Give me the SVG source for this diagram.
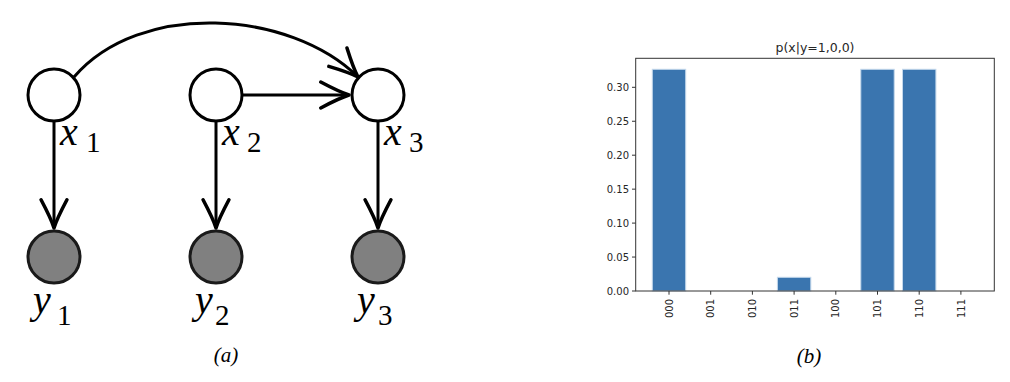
<svg xmlns="http://www.w3.org/2000/svg" width="1010" height="382" viewBox="0 0 1010 382">
  <defs>
    <marker id="arr" markerUnits="userSpaceOnUse" markerWidth="40" markerHeight="40" viewBox="-30 -15 34 30" refX="0" refY="0" orient="auto">
      <path d="M-24,-11 Q-8,-2.5 0,0 Q-8,2.5 -24,11" fill="none" stroke="#000" stroke-width="3" stroke-linecap="round" stroke-linejoin="round"/>
    </marker>
    <style>
      .lat { fill: #fff; stroke: #000; stroke-width: 3; }
      .obs { fill: #808080; stroke: #1a1a1a; stroke-width: 3; }
      .edge { fill: none; stroke: #000; stroke-width: 3; marker-end: url(#arr); }
      .var { font-family: "Liberation Serif", "DejaVu Serif", serif; font-style: italic; font-size: 40px; fill: #000; }
      .sub { font-family: "Liberation Serif", "DejaVu Serif", serif; font-size: 29px; fill: #000; }
      .cap { font-family: "Liberation Serif", "DejaVu Serif", serif; font-style: italic; font-size: 21px; fill: #000; text-anchor: middle; }
      .tick { stroke: #333; stroke-width: 1; }
      .tl { font-family: "DejaVu Sans", sans-serif; font-size: 10px; fill: #262626; }
      .title { font-family: "DejaVu Sans", sans-serif; font-size: 12.5px; fill: #262626; text-anchor: middle; }
      .bar { fill: #3a75af; stroke: #c4d8ec; stroke-width: 1; }
    </style>
  </defs>

  <g id="connectors">
    <line class="edge" x1="54" y1="122" x2="54" y2="228"/>
    <line class="edge" x1="216" y1="122" x2="216" y2="228"/>
    <line class="edge" x1="378" y1="122" x2="378" y2="228"/>
    <line class="edge" x1="243" y1="95" x2="349" y2="95"/>
    <path class="edge" d="M74,77 C140,0 290,10 358,77"/>
  </g>

  <g id="node-x1">
    <circle class="lat" cx="54" cy="95" r="26"/>
    <text class="var" x="60" y="145">x</text><text class="sub" x="86" y="152">1</text>
  </g>
  <g id="node-x2">
    <circle class="lat" cx="216" cy="95" r="26"/>
    <text class="var" x="222" y="145">x</text><text class="sub" x="247" y="152">2</text>
  </g>
  <g id="node-x3">
    <circle class="lat" cx="378" cy="95" r="26"/>
    <text class="var" x="384" y="145">x</text><text class="sub" x="409" y="152">3</text>
  </g>
  <g id="node-y1">
    <circle class="obs" cx="54" cy="257" r="26"/>
    <text class="var" x="33" y="313">y</text><text class="sub" x="57" y="325">1</text>
  </g>
  <g id="node-y2">
    <circle class="obs" cx="216" cy="257" r="26"/>
    <text class="var" x="195" y="313">y</text><text class="sub" x="215" y="325">2</text>
  </g>
  <g id="node-y3">
    <circle class="obs" cx="378" cy="257" r="26"/>
    <text class="var" x="357" y="313">y</text><text class="sub" x="378" y="325">3</text>
  </g>

  <text class="cap" x="226" y="362">(a)</text>

  <g id="chart">
    <text class="title" x="815" y="52">p(x|y=1,0,0)</text>
    <rect class="bar" x="652.3" y="69.3" width="33.4" height="221.7"/>
    <rect class="bar" x="777.4" y="277.3" width="33.4" height="13.7"/>
    <rect class="bar" x="860.8" y="69.3" width="33.4" height="221.7"/>
    <rect class="bar" x="902.5" y="69.3" width="33.4" height="221.7"/>
    <rect x="635.7" y="58.3" width="358.6" height="232.7" fill="none" stroke="#333" stroke-width="1"/>
    <g class="tick">
      <line x1="632" y1="291" x2="635.7" y2="291"/>
      <line x1="632" y1="257.05" x2="635.7" y2="257.05"/>
      <line x1="632" y1="223.1" x2="635.7" y2="223.1"/>
      <line x1="632" y1="189.15" x2="635.7" y2="189.15"/>
      <line x1="632" y1="155.2" x2="635.7" y2="155.2"/>
      <line x1="632" y1="121.25" x2="635.7" y2="121.25"/>
      <line x1="632" y1="87.3" x2="635.7" y2="87.3"/>
      <line x1="669" y1="291" x2="669" y2="294.7"/>
      <line x1="710.7" y1="291" x2="710.7" y2="294.7"/>
      <line x1="752.4" y1="291" x2="752.4" y2="294.7"/>
      <line x1="794.1" y1="291" x2="794.1" y2="294.7"/>
      <line x1="835.8" y1="291" x2="835.8" y2="294.7"/>
      <line x1="877.5" y1="291" x2="877.5" y2="294.7"/>
      <line x1="919.2" y1="291" x2="919.2" y2="294.7"/>
      <line x1="960.9" y1="291" x2="960.9" y2="294.7"/>
    </g>
    <g class="tl" text-anchor="end">
      <text x="629" y="294.6">0.00</text>
      <text x="629" y="260.6">0.05</text>
      <text x="629" y="226.7">0.10</text>
      <text x="629" y="192.7">0.15</text>
      <text x="629" y="158.8">0.20</text>
      <text x="629" y="124.8">0.25</text>
      <text x="629" y="90.9">0.30</text>
    </g>
    <g class="tl" text-anchor="end">
      <text transform="translate(672.6,299) rotate(-90)">000</text>
      <text transform="translate(714.3,299) rotate(-90)">001</text>
      <text transform="translate(756,299) rotate(-90)">010</text>
      <text transform="translate(797.7,299) rotate(-90)">011</text>
      <text transform="translate(839.4,299) rotate(-90)">100</text>
      <text transform="translate(881.1,299) rotate(-90)">101</text>
      <text transform="translate(922.8,299) rotate(-90)">110</text>
      <text transform="translate(964.5,299) rotate(-90)">111</text>
    </g>
  </g>

  <text class="cap" x="809" y="363">(b)</text>
</svg>
